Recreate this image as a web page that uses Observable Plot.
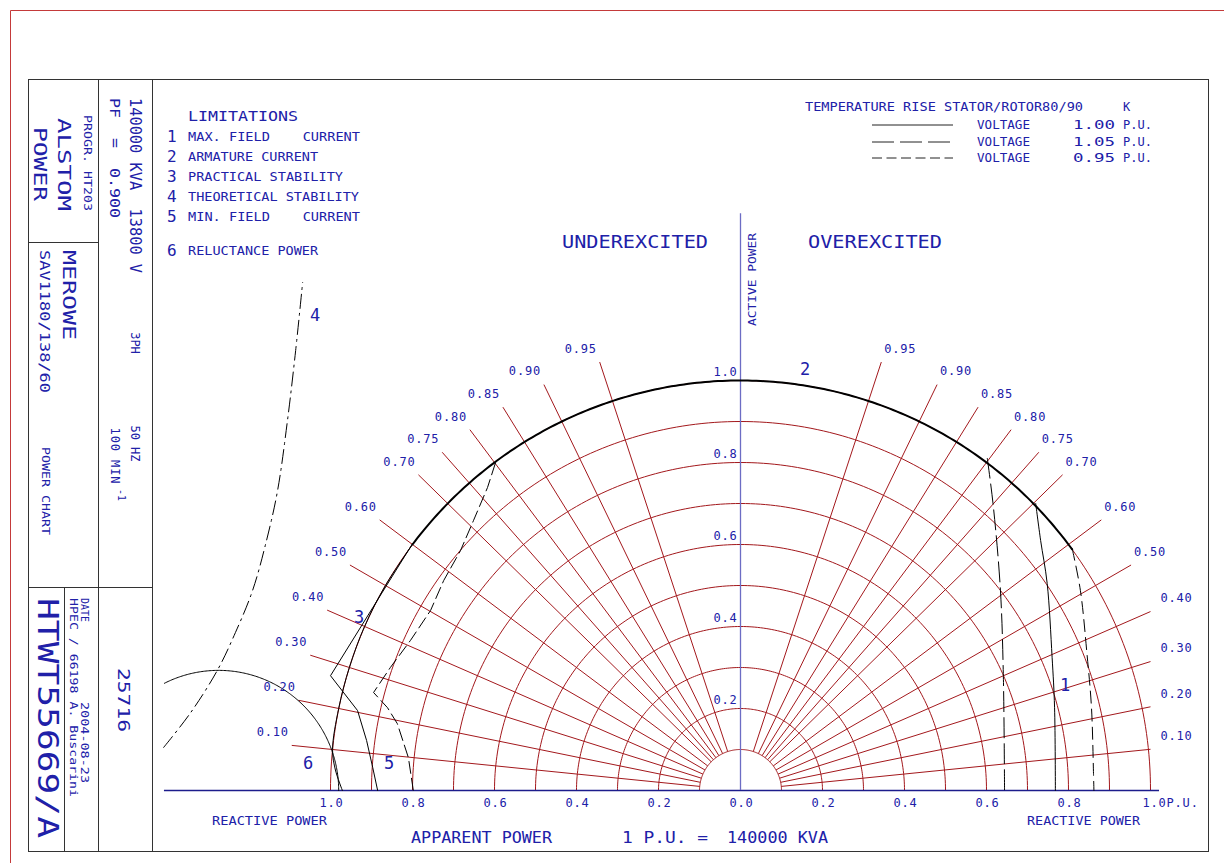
<!DOCTYPE html>
<html><head><meta charset="utf-8">
<script src="https://cdn.jsdelivr.net/npm/d3@7"></script>
<script src="https://cdn.jsdelivr.net/npm/@observablehq/plot@0.6"></script>
<style>
body{margin:0;background:#fff}
#chart{position:relative;width:1224px;height:863px;overflow:hidden;background:#fff}
#chart g[aria-label="text"] text{letter-spacing:0.8px}
</style></head><body><div id="chart"></div>
<script>
// ---------------- data (per-unit values) ----------------
const pfValues = [0.95, 0.90, 0.85, 0.80, 0.75, 0.70, 0.60, 0.50, 0.40, 0.30, 0.20, 0.10];
const circleRadii = [0.1, 0.2, 0.3, 0.4, 0.5, 0.6, 0.7, 0.8, 0.9, 1.0];
const xTickValues = [-1.0, -0.8, -0.6, -0.4, -0.2, 0.0, 0.2, 0.4, 0.6, 0.8];
const xTickEnd = 1.0;
const yTickValues = [0.2, 0.4, 0.6, 0.8, 1.0];
const axisExtent = {qMin: -1.405, qMax: 1.022, pMax: 1.407};
const pfLineInner = 0.1, pfLineOuter = 1.1, pfLineQLimit = 1.0;

const armatureRadius = 1.0;
const armatureEnds = [[-0.800, 0.600], [0.809, 0.588]];
// 1 max field current
const fieldLimit100 = [[0.720,0.700],[0.732,0.610],[0.748,0.505],[0.760,0.325],[0.766,0.203],[0.768,0.0]];
const fieldLimit105 = [[0.602,0.810],[0.617,0.690],[0.634,0.488],[0.641,0.285],[0.644,0.0]];
const fieldLimit095 = [[0.809,0.590],[0.829,0.488],[0.845,0.334],[0.856,0.203],[0.861,0.041],[0.862,0.0]];
// lower continuation of the stator circle (underexcited)
const armatureLow = [[-0.800,0.600],[-0.866,0.500],[-0.917,0.400],[-0.954,0.300],[-0.980,0.200],[-0.995,0.100],[-0.988,0.050],[-0.971,0.0]];
// 3 practical stability / 5 min field current
const practicalStability = [[-0.800,0.602],[-1.000,0.280],[-0.934,0.195],[-0.912,0.122],[-0.897,0.056],[-0.885,0.0]];
const stabilityDashed = [[-0.598,0.798],[-0.617,0.739],[-0.651,0.659],[-0.683,0.585],[-0.724,0.512],[-0.756,0.439],[-0.805,0.366],[-0.854,0.300],[-0.895,0.239],[-0.861,0.202],[-0.837,0.163],[-0.810,0.080],[-0.798,0.0]];
// 4 theoretical stability
const theoreticalStability = [[-1.407,0.105],[-1.341,0.190],[-1.276,0.293],[-1.232,0.385],[-1.190,0.488],[-1.156,0.610],[-1.129,0.732],[-1.105,0.902],[-1.085,1.073],[-1.068,1.239]];
// 6 reluctance power circle
const reluctanceCenter = -1.273, reluctanceRadius = 0.293;

const limitationNames = ["MAX. FIELD    CURRENT","ARMATURE CURRENT","PRACTICAL STABILITY","THEORETICAL STABILITY","MIN. FIELD    CURRENT","RELUCTANCE POWER"];
const voltageRows = ["1.00","1.05","0.95"];

// ---------------- geometry / style ----------------
const W = 1224, H = 863, PX = 410, OX = 740, OY = 790;
const RED = "#a3181c", BLUE = "#2020a8", NAVY = "#1c1c8c", AXB = "#6c6cc4";
const FONT = "DejaVu Sans Mono";
const xDomain = [-OX / PX, (W - OX) / PX], yDomain = [(OY - H) / PX, OY / PX];

const pt = ([q, p]) => ({q, p});
const arc = (r, a0, a1, cq = 0, n = 180) => d3.range(n + 1).map(i => {
  const a = a0 + (a1 - a0) * i / n; return {q: cq + r * Math.cos(a), p: r * Math.sin(a)};
});

const circlePts = circleRadii.flatMap(r => arc(r, 0, Math.PI).map(d => ({...d, r})));

const pfLines = [];
for (const s of [-1, 1]) for (const pf of pfValues) {
  const sn = Math.sqrt(1 - pf * pf);
  let rEnd = pfLineOuter, clipped = false;
  if (s > 0 && rEnd * sn > pfLineQLimit) { rEnd = pfLineQLimit / sn; clipped = true; }
  pfLines.push({s, pf, clipped, x1: s * pfLineInner * sn, y1: pfLineInner * pf, x2: s * rEnd * sn, y2: rEnd * pf});
}

const armArc = arc(armatureRadius,
  Math.atan2(armatureEnds[1][1], armatureEnds[1][0]),
  Math.atan2(armatureEnds[0][1], armatureEnds[0][0]));
const relArc = arc(reluctanceRadius, 0, Math.acos((axisExtent.qMin - reluctanceCenter) / reluctanceRadius), reluctanceCenter);

const lineOpts = (extra) => ({x: "q", y: "p", stroke: "black", strokeWidth: 1, ...extra});
const pfText = {x: "x2", y: "y2", text: d => d.pf.toFixed(2), fill: BLUE, fontSize: 12, fontFamily: FONT, dy: -13};

const svg = Plot.plot({
  width: W, height: H, margin: 0,
  x: {domain: xDomain, axis: null},
  y: {domain: yDomain, axis: null},
  style: {background: "white", fontFamily: FONT, overflow: "visible"},
  marks: [
    Plot.line(circlePts, {x: "q", y: "p", z: "r", stroke: RED, strokeWidth: 1}),
    Plot.link(pfLines, {x1: "x1", y1: "y1", x2: "x2", y2: "y2", stroke: RED, strokeWidth: 1}),
    Plot.ruleY([0], {x1: axisExtent.qMin, x2: axisExtent.qMax, stroke: NAVY, strokeWidth: 1.3}),
    Plot.ruleX([0], {y1: 0, y2: axisExtent.pMax, stroke: AXB, strokeWidth: 1.3}),
    Plot.line(armArc, lineOpts({strokeWidth: 2})),
    Plot.line(armatureLow.map(pt), lineOpts({curve: "catmull-rom"})),
    Plot.line(practicalStability.map(pt), lineOpts({})),
    Plot.line(stabilityDashed.map(pt), lineOpts({strokeDasharray: "12,5"})),
    Plot.line(relArc, lineOpts({})),
    Plot.line(theoreticalStability.map(pt), lineOpts({curve: "catmull-rom", strokeDasharray: "14,5,2,5"})),
    Plot.line(fieldLimit100.map(pt), lineOpts({curve: "catmull-rom"})),
    Plot.line(fieldLimit105.map(pt), lineOpts({curve: "catmull-rom", strokeDasharray: "20,6"})),
    Plot.line(fieldLimit095.map(pt), lineOpts({curve: "catmull-rom", strokeDasharray: "12,6"})),
    Plot.text(pfLines.filter(d => d.s < 0), {...pfText, dx: -19}),
    Plot.text(pfLines.filter(d => d.s > 0 && !d.clipped), {...pfText, dx: 19}),
    Plot.text(pfLines.filter(d => d.s > 0 && d.clipped), {...pfText, dx: 26}),
    Plot.text(xTickValues, {x: d => d, y: 0, text: d => Math.abs(d).toFixed(1), dy: 13, dx: 1, fill: BLUE, fontSize: 12, fontFamily: FONT}),
    Plot.text([xTickEnd], {x: d => d, y: 0, text: d => d.toFixed(1) + "P.U.", dy: 13, dx: -8, textAnchor: "start", fill: BLUE, fontSize: 12, fontFamily: FONT}),
    Plot.text(yTickValues, {x: 0, y: d => d, text: d => d.toFixed(1), dx: -3, dy: -8, textAnchor: "end", fill: BLUE, fontSize: 12, fontFamily: FONT})
  ]
});
document.getElementById("chart").appendChild(svg);

// ---------------- drawing frame, title block and legends ----------------
const g = d3.select(svg).append("g");
const L = (x1, y1, x2, y2, c = "#333", w = 1) => g.append("line").attr("x1", x1).attr("y1", y1).attr("x2", x2).attr("y2", y2).attr("stroke", c).attr("stroke-width", w);
function T(s, x, y, o = {}) {
  const t = g.append("text").attr("font-family", FONT).attr("font-size", o.size || 12).attr("fill", o.fill || BLUE)
    .attr("text-anchor", o.anchor || "start").attr("dominant-baseline", "central");
  if (o.rot) t.attr("transform", `translate(${x},${y}) rotate(${o.rot})`); else t.attr("x", x).attr("y", y);
  if (o.len) t.attr("textLength", o.len).attr("lengthAdjust", o.adj || "spacingAndGlyphs");
  t.text(s);
  return t;
}
// outer sheet lines
L(10.5, 10.5, W, 10.5, "#c43a3a");
L(10.5, 10.5, 10.5, H, "#c43a3a");
// frame
g.append("rect").attr("x", 28.5).attr("y", 79.5).attr("width", 1180).attr("height", 772).attr("fill", "none").attr("stroke", "#333");
L(98.5, 79.5, 98.5, 851.5); L(152.5, 79.5, 152.5, 851.5);
L(28.5, 242.5, 98.5, 242.5); L(28.5, 587.5, 152.5, 587.5); L(64.5, 587.5, 64.5, 851.5);

// title block (rotated text)
const R = 90;
T("PROGR. HT203", 87, 163, {rot: R, anchor: "middle", size: 11, len: 96});
T("ALSTOM", 64, 164.5, {rot: R, anchor: "middle", size: 18, len: 93});
T("POWER", 40, 164, {rot: R, anchor: "middle", size: 18, len: 74});
T("140000 KVA  13800 V", 135, 185.5, {rot: R, anchor: "middle", size: 15, len: 175});
T("PF  =  0.900", 115, 158, {rot: R, anchor: "middle", size: 14, len: 120});
T("3PH", 135, 343, {rot: R, anchor: "middle", size: 12});
T("50 HZ", 135, 443.5, {rot: R, anchor: "middle", size: 12});
T("100 MIN", 115, 455.5, {rot: R, anchor: "middle", size: 12, len: 56, adj: "spacing"});
T("-1", 121, 495, {rot: R, anchor: "middle", size: 10});
T("MEROWE", 69, 295, {rot: R, anchor: "middle", size: 18, len: 90});
T("SAV1180/138/60", 45, 321.5, {rot: R, anchor: "middle", size: 14, len: 143});
T("POWER CHART", 45, 491, {rot: R, anchor: "middle", size: 11, len: 88});
T("HTWT55669/A", 47.5, 718, {rot: R, anchor: "middle", size: 28, len: 240});
T("DATE", 84, 610, {rot: R, anchor: "middle", size: 10, len: 24});
T("2004-08-23", 84, 742.5, {rot: R, anchor: "middle", size: 11, len: 81});
T("HPEC / 66198 A. Buscarini", 73, 697.5, {rot: R, anchor: "middle", size: 11, len: 199});
T("25716", 123, 700, {rot: R, anchor: "middle", size: 16, len: 64});

// limitations legend
T("LIMITATIONS", 188, 115.5, {size: 14, len: 110});
const limRows = [137, 157, 177, 197, 217, 251];
const limLens = [172, 130, 155, 171, 172, 130];
limitationNames.forEach((s, i) => {
  T(String(i + 1), 167, limRows[i] - 1, {size: 16});
  T(s, 188, limRows[i], {size: 12, len: limLens[i]});
});

// temperature / voltage legend
T("TEMPERATURE RISE STATOR/ROTOR80/90", 805, 107, {size: 12, len: 278});
T("K", 1123, 107, {size: 12});
const vRows = [125, 142, 158], vDash = [null, "22,6", "10,4.5"];
voltageRows.forEach((v, i) => {
  const ln = L(872, vRows[i], 953, vRows[i], "#222", 1);
  if (vDash[i]) ln.attr("stroke-dasharray", vDash[i]);
  T("VOLTAGE", 977, vRows[i], {size: 12, len: 53});
  T(v, 1073, vRows[i], {size: 12, len: 42});
  T("P.U.", 1123, vRows[i], {size: 12, len: 29});
});

// region titles
T("UNDEREXCITED", 562, 241, {size: 18, len: 146});
T("OVEREXCITED", 808, 241, {size: 18, len: 134});
T("ACTIVE POWER", 752.5, 279.5, {rot: -90, anchor: "middle", size: 11, len: 93});
T("REACTIVE POWER", 212, 820.5, {size: 12, len: 115});
T("REACTIVE POWER", 1027, 820.5, {size: 12, len: 113});
T("APPARENT POWER", 411, 838, {size: 15, len: 141});
T("1 P.U. =", 622, 838, {size: 15, len: 86});
T("140000 KVA", 727, 838, {size: 15, len: 101});

// curve numbers
[["1", 1065, 685], ["2", 805, 369], ["3", 359, 617], ["4", 315, 315], ["5", 389, 763], ["6", 308, 763]]
  .forEach(([s, x, y]) => T(s, x, y, {size: 17, anchor: "middle"}));
</script></body></html>
